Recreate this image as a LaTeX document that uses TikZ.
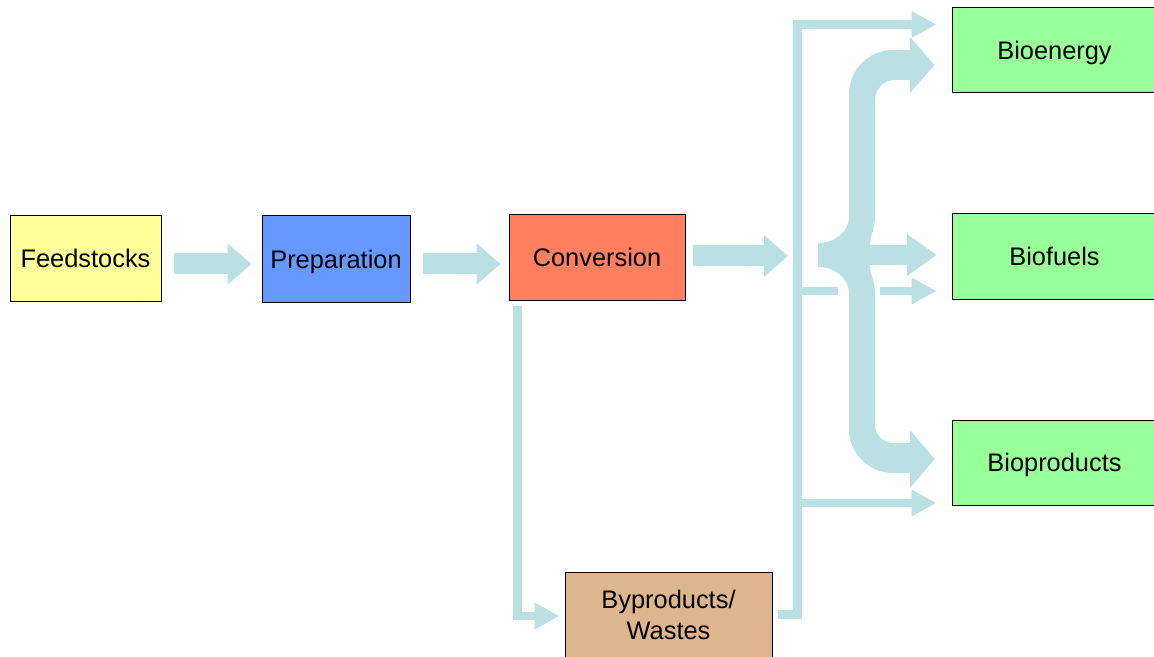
\documentclass[tikz,border=0pt]{standalone}
\usepackage{fontspec}
\setmainfont{Liberation Sans}
\usepackage{tikz}
\usetikzlibrary{arrows.meta}
\usetikzlibrary{calc}

\definecolor{feedyellow}{HTML}{FFFF99}
\definecolor{prepblue}{HTML}{6699FF}
\definecolor{convorange}{HTML}{FF7F5F}
\definecolor{bypbrown}{HTML}{DEB68E}
\definecolor{bioGreen}{HTML}{99FF99}
\definecolor{flowblue}{HTML}{BBE0E3}

\tikzset{
  box/.style={draw=black, line width=0.5pt, minimum height=42.5pt, inner sep=0pt,
    text height=9.3pt, text depth=0pt,
    font=\fontsize{12.7}{15.5}\selectfont, align=center},
  fat/.style={flowblue, line width=10.5pt, -{Triangle[length=12pt,width=20pt]}},
  thin/.style={flowblue, line width=4.4pt, line join=miter},
  thinarrow/.style={thin, -{Triangle[length=12.5pt,width=12.5pt]}}
}

\begin{document}
\begin{tikzpicture}[x=0.5pt, y=-0.5pt]
\useasboundingbox (0,0) rectangle (1154,657);

\node[box, fill=feedyellow, minimum width=75.5pt] (feed) at (85.5,258.5) {Feedstocks};
\node[box, fill=prepblue, minimum width=74pt, minimum height=43pt] (prep) at (336,259) {Preparation};
\node[box, fill=convorange, minimum width=88pt] (conv) at (597,257.5) {Conversion};
\node[box, fill=bypbrown, minimum width=103.5pt, text height=24.8pt] (byp) at (668.5,614.5) {Byproducts/\\Wastes};
\node[box, fill=bioGreen, minimum width=102.5pt] (energy) at (1054.5,50.5) {Bioenergy};
\node[box, fill=bioGreen, minimum width=102.5pt] (fuels) at (1054.5,256.5) {Biofuels};
\node[box, fill=bioGreen, minimum width=102.5pt] (products) at (1054.5,462.5) {Bioproducts};
\coordinate (cusp) at (818,255);

\draw[fat] ($(feed.east)+(12,5.5)$) -- ($(prep.west)+(-10,5)$);
\draw[fat] ($(prep.east)+(12,5)$) -- ($(conv.west)+(-8,6.5)$);
\draw[fat] ($(conv.east)+(7,-1.5)$) -- ($(cusp)+(-30,1)$);

\draw[thinarrow] ($(conv.south west)+(9,5)$) |- ($(byp.west)+(-5,1.5)$);
\draw[thinarrow] ($(byp.east)+(5,0)$) -| (797.5,24.5) -- ($(energy.west)+(-15,-26)$);
\draw[thin] (797.5,291) -- (838,291);
\draw[thinarrow] (880,291) -- ($(fuels.west)+(-15,34.5)$);
\draw[thinarrow] (797.5,503) -- ($(products.west)+(-15,40.5)$);

\fill[flowblue] (849,94) .. controls (849,69.7) and (868.7,50) .. (893,50)
  -- (910,50) -- (910,37) -- ($(energy.west)+(-17,14.5)$) -- (910,93) -- (910,80) -- (895,80)
  .. controls (884,80) and (875,89) .. (875,100)
  -- (875,215) .. controls (875,230) and (870,235) .. (870,245)
  -- (907,245) -- (907,234) -- ($(fuels.west)+(-15,-1.5)$) -- (907,276) -- (907,265) -- (870,265)
  .. controls (870,275) and (875,280) .. (875,295)
  -- (875,425) .. controls (875,435) and (883,443) .. (893,443)
  -- (910,443) -- (910,430) -- ($(products.west)+(-17,-3.5)$) -- (910,488) -- (910,473) -- (893,473)
  .. controls (868.7,473) and (849,453.3) .. (849,429)
  -- (849,293) .. controls (849,278.6) and (835.1,267) .. (818,267)
  -- (818,243) .. controls (835.1,243) and (849,231.4) .. (849,217)
  -- cycle;
\end{tikzpicture}
\end{document}
